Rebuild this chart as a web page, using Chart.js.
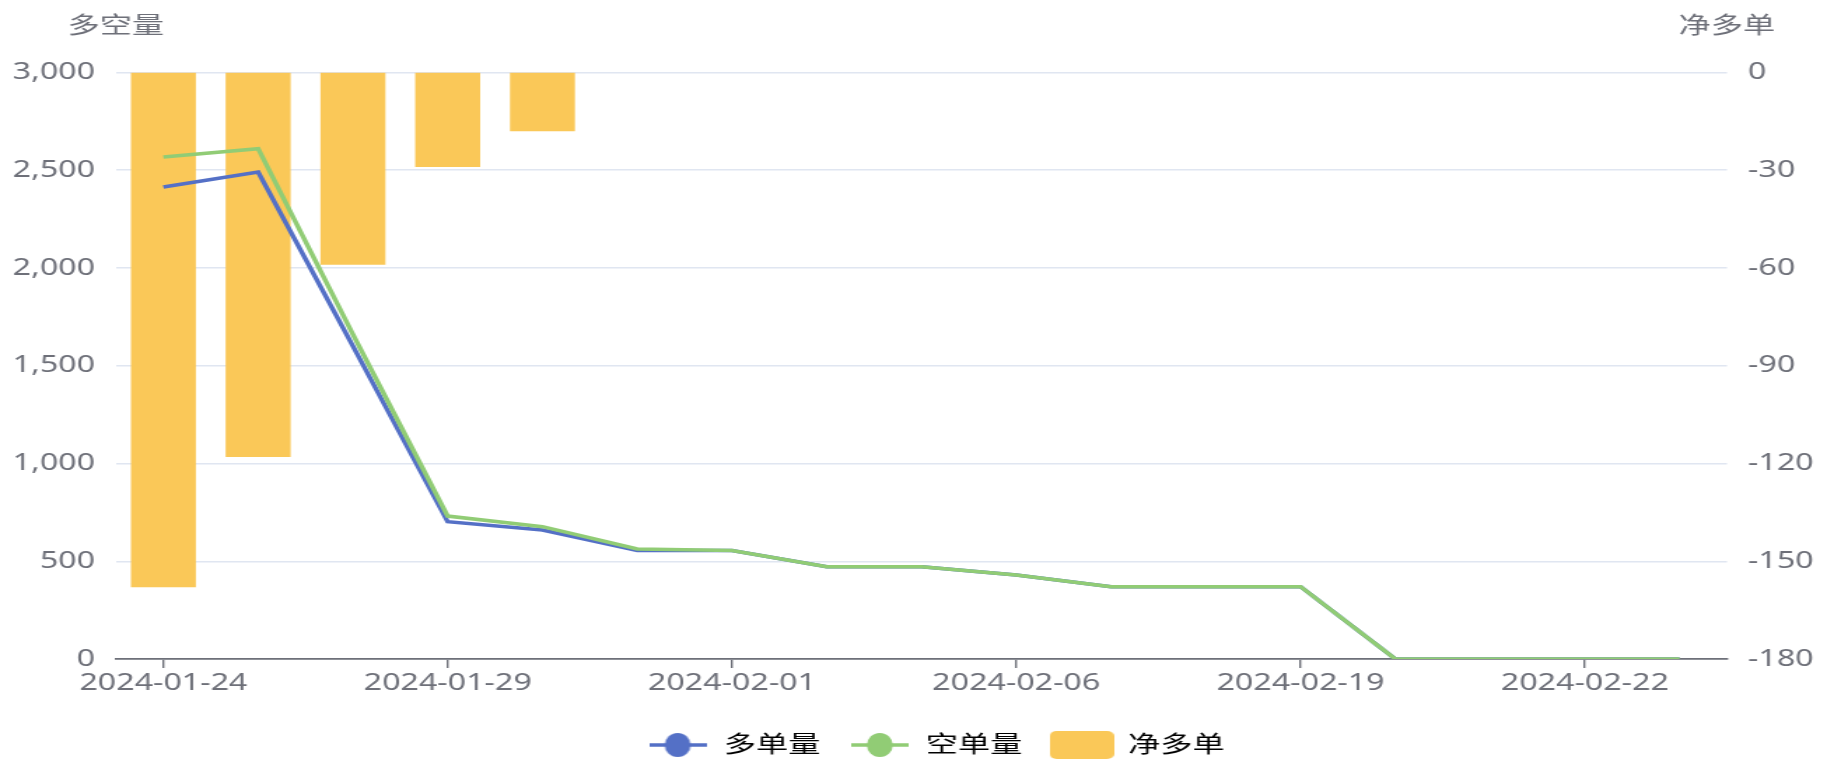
<!DOCTYPE html>
<html>
<head>
<meta charset="utf-8">
<script src="https://cdn.jsdelivr.net/npm/chart.js@4.4.1/dist/chart.umd.min.js"></script>
<style>
  html, body { margin: 0; padding: 0; background: #fff; overflow: hidden; }
  #wrap { width: 1824px; height: 759px; overflow: hidden; position: relative; }
  #inner { position: absolute; left: 0; top: 0; transform-origin: 0 0; }
  canvas { display: block; }
</style>
</head>
<body>
<div id="wrap"><div id="inner"><canvas id="chart"></canvas></div></div>
<script>
// the reference is stretched sideways, so draw narrow and scale the box in x
const SX = 1.4;
const W = Math.round(1824 / SX);
const H = 800;
const FONT = '"Noto Sans", "Noto Sans CJK SC", sans-serif';
const FS = 23;

const dates = [
  '2024-01-24', '2024-01-25', '2024-01-26', '2024-01-29', '2024-01-30', '2024-01-31',
  '2024-02-01', '2024-02-02', '2024-02-05', '2024-02-06', '2024-02-07', '2024-02-08',
  '2024-02-19', '2024-02-20', '2024-02-21', '2024-02-22', '2024-02-23'
];
const longQty  = [2414, 2491, 1600, 702, 660, 555, 555, 472, 472, 430, 370, 370, 370, 0, 0, 0, 0];
const shortQty = [2568, 2610, 1660, 731, 677, 563, 555, 472, 472, 430, 370, 370, 370, 0, 0, 0, 0];
const netLong  = [-158, -118, -59, -29, -18, 0, 0, 0, 0, 0, 0, 0, 0, 0, 0, 0, 0];

const seriesNames = ['多单量', '空单量', '净多单'];
const axisNames = ['多空量', '净多单'];
const leftAxis = [0, 3000, 500];     // min, max, step
const rightAxis = [-180, 0, 30];
const labelEvery = 3;

const colors = ['#5470c6', '#91cc75', '#fac858'];
const axisColor = '#6E7079';
const gridColor = '#E0E6F1';

// legend icons, sized in page pixels then squeezed back by SX
function lineIcon(color) {
  const c = document.createElement('canvas');
  c.width = Math.round(58 / SX);
  c.height = 26;
  const g = c.getContext('2d');
  g.strokeStyle = color;
  g.lineWidth = 3.5;
  g.beginPath();
  g.moveTo(0, 13);
  g.lineTo(c.width, 13);
  g.stroke();
  g.fillStyle = color;
  g.beginPath();
  g.ellipse(c.width / 2, 13, 13 / SX, 12, 0, 0, Math.PI * 2);
  g.fill();
  return c;
}
function boxIcon(color) {
  const c = document.createElement('canvas');
  c.width = Math.round(64 / SX);
  c.height = 28;
  const g = c.getContext('2d');
  g.fillStyle = color;
  g.beginPath();
  g.roundRect(0, 0, c.width, c.height, 5);
  g.fill();
  return c;
}
const icons = [lineIcon(colors[0]), lineIcon(colors[1]), boxIcon(colors[2])];

const axisTitles = {
  id: 'axisTitles',
  afterDraw(chart) {
    const { ctx, chartArea } = chart;
    ctx.save();
    ctx.font = FS + 'px ' + FONT;
    ctx.fillStyle = axisColor;
    ctx.textAlign = 'center';
    ctx.textBaseline = 'middle';
    ctx.fillText(axisNames[0], chartArea.left, 26);
    ctx.fillText(axisNames[1], chartArea.right, 26);
    ctx.restore();
  }
};

let xAxisH = 40;
let padBottom = 0;
// legend row sits a bit right of the canvas centre in the reference
const padRight = -48 / SX;

const canvas = document.getElementById('chart');
canvas.width = W;
canvas.height = H;
canvas.style.width = W + 'px';
canvas.style.height = H + 'px';
document.getElementById('inner').style.transform = 'scaleX(' + SX + ')';

const chart = new Chart(canvas.getContext('2d'), {
  type: 'bar',
  data: {
    labels: dates,
    datasets: [
      {
        type: 'line', label: seriesNames[0], data: longQty, yAxisID: 'y',
        borderColor: colors[0], backgroundColor: colors[0], borderWidth: 3.5,
        pointRadius: 0, tension: 0, order: 1
      },
      {
        type: 'line', label: seriesNames[1], data: shortQty, yAxisID: 'y',
        borderColor: colors[1], backgroundColor: colors[1], borderWidth: 3.5,
        pointRadius: 0, tension: 0, order: 0
      },
      {
        type: 'bar', label: seriesNames[2], data: netLong, yAxisID: 'y1',
        backgroundColor: colors[2], borderWidth: 0,
        barPercentage: 0.686, categoryPercentage: 1, order: 2
      }
    ]
  },
  options: {
    responsive: false,
    animation: false,
    devicePixelRatio: 1,
    layout: { padding: { top: 72.5, left: 0, right: padRight, bottom: padBottom } },
    scales: {
      x: {
        offset: true,
        grid: {
          display: true, drawOnChartArea: false, drawTicks: true, tickLength: 9, offset: false,
          color: c => (c.index % labelEvery === 0 ? axisColor : 'rgba(0,0,0,0)'),
          lineWidth: 1.4
        },
        border: { display: true, color: axisColor, width: 1.75 },
        ticks: {
          autoSkip: false, maxRotation: 0, minRotation: 0, padding: 2,
          color: axisColor, font: { family: FONT, size: FS },
          callback: function (v, i) { return i % labelEvery === 0 ? this.getLabelForValue(v) : ''; }
        },
        afterFit: s => { s.height = xAxisH; }
      },
      y: {
        position: 'left',
        min: leftAxis[0], max: leftAxis[1],
        grid: { color: gridColor, lineWidth: 1.5, drawTicks: false },
        border: { display: false },
        ticks: { stepSize: leftAxis[2], padding: 21 / SX, color: axisColor, font: { family: FONT, size: FS } },
        afterFit: s => { s.width = 116 / SX; }
      },
      y1: {
        position: 'right',
        min: rightAxis[0], max: rightAxis[1],
        grid: { display: false, drawTicks: false },
        border: { display: false },
        ticks: { stepSize: rightAxis[2], padding: 21 / SX, color: axisColor, font: { family: FONT, size: FS } },
        afterFit: s => { s.width = W - padRight - 1727 / SX; }
      }
    },
    plugins: {
      tooltip: { enabled: false },
      legend: {
        position: 'bottom',
        labels: {
          usePointStyle: true,
          pointStyleWidth: 60 / SX,
          boxHeight: FS,
          padding: 21,
          color: '#333',
          font: { family: FONT, size: FS },
          generateLabels: ch => ch.data.datasets.map((ds, i) => ({
            text: ds.label,
            pointStyle: icons[i],
            fillStyle: colors[i],
            strokeStyle: colors[i],
            lineWidth: 0,
            hidden: false,
            datasetIndex: i
          }))
        }
      }
    }
  },
  plugins: [axisTitles]
});

// settle the plot bottom and the legend row onto the reference positions
for (let k = 0; k < 4; k++) {
  const hb = chart.legend.legendHitBoxes[0];
  padBottom += (hb.top + FS / 2) - 745;
  xAxisH -= 659 - chart.chartArea.bottom;
  chart.options.layout.padding.bottom = padBottom;
  chart.update('none');
}
</script>
</body>
</html>
